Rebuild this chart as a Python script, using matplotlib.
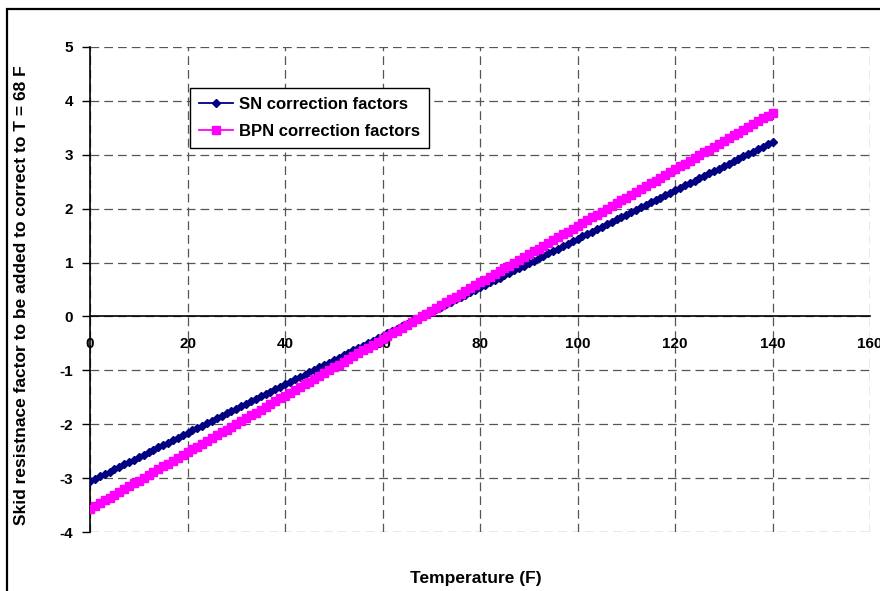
import matplotlib.pyplot as plt
from matplotlib.patches import Rectangle

plt.rcParams['font.family'] = ['Liberation Sans', 'DejaVu Sans']
plt.rcParams['font.weight'] = 'bold'
plt.rcParams['axes.unicode_minus'] = False

# temperature in F, one point per degree
temps = list(range(0, 141))

sn_factors = [
    -3.060, -3.015, -2.970, -2.925, -2.880, -2.835, -2.790, -2.745, -2.700, -2.655,
    -2.610, -2.565, -2.520, -2.475, -2.430, -2.385, -2.340, -2.295, -2.250, -2.205,
    -2.160, -2.115, -2.070, -2.025, -1.980, -1.935, -1.890, -1.845, -1.800, -1.755,
    -1.710, -1.665, -1.620, -1.575, -1.530, -1.485, -1.440, -1.395, -1.350, -1.305,
    -1.260, -1.215, -1.170, -1.125, -1.080, -1.035, -0.990, -0.945, -0.900, -0.855,
    -0.810, -0.765, -0.720, -0.675, -0.630, -0.585, -0.540, -0.495, -0.450, -0.405,
    -0.360, -0.315, -0.270, -0.225, -0.180, -0.135, -0.090, -0.045, 0.000, 0.045,
    0.090, 0.135, 0.180, 0.225, 0.270, 0.315, 0.360, 0.405, 0.450, 0.495,
    0.540, 0.585, 0.630, 0.675, 0.720, 0.765, 0.810, 0.855, 0.900, 0.945,
    0.990, 1.035, 1.080, 1.125, 1.170, 1.215, 1.260, 1.305, 1.350, 1.395,
    1.440, 1.485, 1.530, 1.575, 1.620, 1.665, 1.710, 1.755, 1.800, 1.845,
    1.890, 1.935, 1.980, 2.025, 2.070, 2.115, 2.160, 2.205, 2.250, 2.295,
    2.340, 2.385, 2.430, 2.475, 2.520, 2.565, 2.610, 2.655, 2.700, 2.745,
    2.790, 2.835, 2.880, 2.925, 2.970, 3.015, 3.060, 3.105, 3.150, 3.195,
    3.240,
]

bpn_factors = [
    -3.5700, -3.5175, -3.4650, -3.4125, -3.3600, -3.3075, -3.2550, -3.2025, -3.1500, -3.0975,
    -3.0450, -2.9925, -2.9400, -2.8875, -2.8350, -2.7825, -2.7300, -2.6775, -2.6250, -2.5725,
    -2.5200, -2.4675, -2.4150, -2.3625, -2.3100, -2.2575, -2.2050, -2.1525, -2.1000, -2.0475,
    -1.9950, -1.9425, -1.8900, -1.8375, -1.7850, -1.7325, -1.6800, -1.6275, -1.5750, -1.5225,
    -1.4700, -1.4175, -1.3650, -1.3125, -1.2600, -1.2075, -1.1550, -1.1025, -1.0500, -0.9975,
    -0.9450, -0.8925, -0.8400, -0.7875, -0.7350, -0.6825, -0.6300, -0.5775, -0.5250, -0.4725,
    -0.4200, -0.3675, -0.3150, -0.2625, -0.2100, -0.1575, -0.1050, -0.0525, 0.0000, 0.0525,
    0.1050, 0.1575, 0.2100, 0.2625, 0.3150, 0.3675, 0.4200, 0.4725, 0.5250, 0.5775,
    0.6300, 0.6825, 0.7350, 0.7875, 0.8400, 0.8925, 0.9450, 0.9975, 1.0500, 1.1025,
    1.1550, 1.2075, 1.2600, 1.3125, 1.3650, 1.4175, 1.4700, 1.5225, 1.5750, 1.6275,
    1.6800, 1.7325, 1.7850, 1.8375, 1.8900, 1.9425, 1.9950, 2.0475, 2.1000, 2.1525,
    2.2050, 2.2575, 2.3100, 2.3625, 2.4150, 2.4675, 2.5200, 2.5725, 2.6250, 2.6775,
    2.7300, 2.7825, 2.8350, 2.8875, 2.9400, 2.9925, 3.0450, 3.0975, 3.1500, 3.2025,
    3.2550, 3.3075, 3.3600, 3.4125, 3.4650, 3.5175, 3.5700, 3.6225, 3.6750, 3.7275,
    3.7800,
]

x_ticks = [0, 20, 40, 60, 80, 100, 120, 140, 160]
y_ticks = [-4, -3, -2, -1, 0, 1, 2, 3, 4, 5]

fig = plt.figure(figsize=(8.8, 5.91), dpi=100)
ax = fig.add_axes([90 / 880, 59 / 591, 780 / 880, 485 / 591])

# outer chart border (Excel chart area)
fig.patches.append(Rectangle((7 / 880, -0.05), 1.0, (591 - 9) / 591 + 0.05,
                             transform=fig.transFigure, fill=False,
                             edgecolor='black', linewidth=1.6))

ax.plot(temps, sn_factors, color='#000080', marker='D', markersize=4.3,
        linewidth=1.3, label='SN correction factors', zorder=3)
ax.plot(temps, bpn_factors, color='#FF00FF', marker='s', markersize=5.2,
        linewidth=1.3, label='BPN correction factors', zorder=3)

ax.set_xlim(0, 160)
ax.set_ylim(-4, 5)
ax.set_xticks(x_ticks)
ax.set_yticks(y_ticks)

ax.grid(True, color='#555555', linestyle=(0, (7, 4)), linewidth=0.9)
ax.set_axisbelow(True)

ax.spines['top'].set_visible(False)
ax.spines['right'].set_visible(False)
ax.spines['bottom'].set_position(('data', 0))
ax.spines['left'].set_linewidth(1.2)
ax.spines['bottom'].set_linewidth(1.2)

ax.tick_params(axis='y', direction='out', length=6, width=1, labelsize=11, pad=6)
ax.tick_params(axis='x', direction='inout', length=0, labelsize=11, pad=15)
for lbl in ax.get_xticklabels() + ax.get_yticklabels():
    lbl.set_fontweight('bold')

fig.text(22 / 880, 0.5, 'Skid resistnace factor to be added to correct to T = 68 F',
         rotation=90, ha='center', va='center', fontsize=12.5, fontweight='bold')
fig.text(476 / 880, 1 - 578 / 591, 'Temperature (F)', ha='center', va='center',
         fontsize=12.5, fontweight='bold')

leg = ax.legend(loc='upper left', bbox_to_anchor=(100 / 780, 1 - 41 / 485), frameon=True,
                fancybox=False, edgecolor='black', framealpha=1,
                prop={'size': 12, 'weight': 'bold'}, handlelength=2.0,
                borderpad=0.55, labelspacing=0.68, handletextpad=0.4,
                borderaxespad=0)
leg.get_frame().set_linewidth(1)

fig.savefig('out.png', dpi=100)
